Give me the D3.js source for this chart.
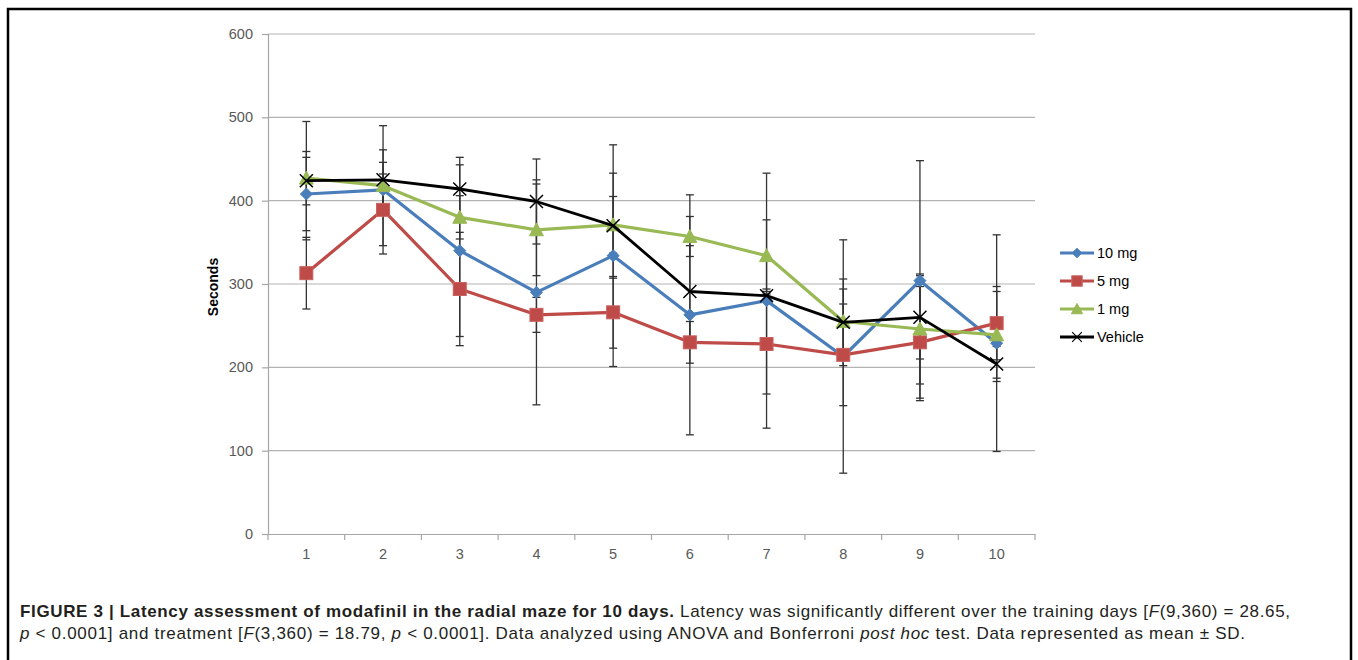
<!DOCTYPE html>
<html>
<head>
<meta charset="utf-8">
<script src="https://cdn.jsdelivr.net/npm/d3@7"></script>
<style>
  body { margin: 0; background: #fff; }
  svg { display: block; }
</style>
</head>
<body>
<div id="chart"></div>
<script>
// Days on the x axis
const days = [1, 2, 3, 4, 5, 6, 7, 8, 9, 10];
const yTicks = [0, 100, 200, 300, 400, 500, 600];

// Means and SDs (seconds)
const mg10 = [408, 413, 340, 290, 334, 263, 280, 213, 304, 229];
const mg10SD = [44, 77, 103, 135, 133, 144, 153, 140, 144, 130];
const mg5 = [313, 389, 294, 263, 266, 230, 228, 215, 230, 253];
const mg5SD = [43, 43, 68, 21, 43, 25, 60, 61, 67, 44];
const mg1 = [427, 418, 380, 365, 371, 357, 334, 255, 246, 239];
const mg1SD = [32, 28, 26, 55, 34, 24, 43, 39, 66, 52];
const vehicle = [424, 425, 414, 399, 370, 291, 286, 254, 260, 204];
const vehicleSD = [71, 36, 38, 51, 63, 55, 8, 52, 50, 21];

const seriesNames = ["10 mg", "5 mg", "1 mg", "Vehicle"];
const seriesColors = ["#4a7ebb", "#be4b48", "#98b954", "#000000"];
const seriesMarkers = ["diamond", "square", "triangle", "cross"];

const series = [
    { name: seriesNames[0], mean: mg10, sd: mg10SD },
    { name: seriesNames[1], mean: mg5, sd: mg5SD },
    { name: seriesNames[2], mean: mg1, sd: mg1SD },
    { name: seriesNames[3], mean: vehicle, sd: vehicleSD }
].map((s, i) => ({ ...s, color: seriesColors[i], marker: seriesMarkers[i] }));

const W = 1358, H = 660;
const plot = { left: 268, right: 1035, top: 34, bottom: 534 };

const svg = d3.select("#chart").append("svg")
    .attr("width", W)
    .attr("height", H);

// Frame around the figure
svg.append("path")
    .attr("d", `M8,${H + 5} V9 H1351 V${H + 5}`)
    .attr("fill", "none")
    .attr("stroke", "#000")
    .attr("stroke-width", 2.5);

const x = d3.scaleBand()
    .domain(days)
    .range([plot.left, plot.right]);

const y = d3.scaleLinear()
    .domain([0, 600])
    .range([plot.bottom, plot.top]);

const cx = d => x(d) + x.bandwidth() / 2;

// Gridlines
svg.append("g")
    .selectAll("line")
    .data(yTicks.filter(t => t > 0))
    .join("line")
    .attr("x1", plot.left)
    .attr("x2", plot.right)
    .attr("y1", d => y(d))
    .attr("y2", d => y(d))
    .attr("stroke", "#b3b3b3")
    .attr("stroke-width", 1.2);

const tickFont = "'Liberation Sans', Arial, sans-serif";

// Y axis
const yAxis = svg.append("g")
    .attr("transform", `translate(${plot.left},0)`)
    .call(d3.axisLeft(y).tickValues(yTicks).tickSize(6).tickPadding(9));
yAxis.select(".domain").attr("stroke", "#a6a6a6").attr("stroke-width", 1.2);
yAxis.selectAll(".tick line").attr("stroke", "#a6a6a6").attr("stroke-width", 1.2);
yAxis.selectAll(".tick text")
    .attr("fill", "#595959")
    .attr("font-size", 14.5)
    .attr("font-family", tickFont);

// X axis (labels centred, ticks on category boundaries)
const xAxis = svg.append("g")
    .attr("transform", `translate(0,${plot.bottom})`)
    .call(d3.axisBottom(x).tickSize(0).tickPadding(15));
xAxis.select(".domain").attr("stroke", "#a6a6a6").attr("stroke-width", 1.2);
xAxis.selectAll(".tick text")
    .attr("fill", "#595959")
    .attr("font-size", 14.5)
    .attr("font-family", tickFont);

svg.append("g")
    .selectAll("line")
    .data(days.map(d => x(d)).concat([plot.right]))
    .join("line")
    .attr("x1", d => d)
    .attr("x2", d => d)
    .attr("y1", plot.bottom)
    .attr("y2", plot.bottom + 6)
    .attr("stroke", "#a6a6a6")
    .attr("stroke-width", 1.2);

// Y title
svg.append("text")
    .attr("transform", "translate(218,287) rotate(-90)")
    .attr("text-anchor", "middle")
    .attr("font-family", tickFont)
    .attr("font-weight", "bold")
    .attr("font-size", 14)
    .attr("fill", "#000")
    .text("Seconds");

// Error bars
const errG = svg.append("g");
series.forEach(s => {
    days.forEach((d, i) => {
        const hi = y(s.mean[i] + s.sd[i]);
        const lo = y(s.mean[i] - s.sd[i]);
        const xc = cx(d);
        errG.append("line")
            .attr("x1", xc).attr("x2", xc)
            .attr("y1", hi).attr("y2", lo)
            .attr("stroke", "#333").attr("stroke-width", 1.3);
        [hi, lo].forEach(v => {
            errG.append("line")
                .attr("x1", xc - 4).attr("x2", xc + 4)
                .attr("y1", v).attr("y2", v)
                .attr("stroke", "#333").attr("stroke-width", 1.3);
        });
    });
});

const line = d3.line()
    .x((v, i) => cx(days[i]))
    .y(v => y(v));

function drawMarker(g, type, color, xc, yc, scale) {
    const k = scale || 1;
    if (type === "diamond") {
        const r = 6 * k;
        g.append("path")
            .attr("d", `M${xc},${yc - r}L${xc + r},${yc}L${xc},${yc + r}L${xc - r},${yc}Z`)
            .attr("fill", color).attr("stroke", color).attr("stroke-width", 1);
    } else if (type === "square") {
        const r = 6.5 * k;
        g.append("rect")
            .attr("x", xc - r).attr("y", yc - r)
            .attr("width", 2 * r).attr("height", 2 * r)
            .attr("fill", color).attr("stroke", "#c9615e").attr("stroke-width", 1);
    } else if (type === "triangle") {
        const r = 7 * k;
        g.append("path")
            .attr("d", `M${xc},${yc - r}L${xc + r},${yc + r * 0.85}L${xc - r},${yc + r * 0.85}Z`)
            .attr("fill", color).attr("stroke", color).attr("stroke-width", 1);
    } else {
        const r = 6.5 * k;
        g.append("path")
            .attr("d", `M${xc - r},${yc - r}L${xc + r},${yc + r}M${xc - r},${yc + r}L${xc + r},${yc - r}`)
            .attr("fill", "none").attr("stroke", color).attr("stroke-width", 1.5 * k);
    }
}

// Lines and markers
series.forEach(s => {
    svg.append("path")
        .datum(s.mean)
        .attr("d", line)
        .attr("fill", "none")
        .attr("stroke", s.color)
        .attr("stroke-width", s.marker === "cross" ? 2.8 : 3.2)
        .attr("stroke-linejoin", "round");
    const mg = svg.append("g");
    s.mean.forEach((v, i) => drawMarker(mg, s.marker, s.color, cx(days[i]), y(v)));
});

// Legend
const legend = svg.append("g");
series.forEach((s, i) => {
    const ly = 253 + i * 28;
    legend.append("line")
        .attr("x1", 1060).attr("x2", 1094)
        .attr("y1", ly).attr("y2", ly)
        .attr("stroke", s.color)
        .attr("stroke-width", s.marker === "cross" ? 2.8 : 3.2);
    drawMarker(legend, s.marker, s.color, 1077, ly, s.marker === "cross" ? 0.75 : 0.8);
    legend.append("text")
        .attr("x", 1097)
        .attr("y", ly + 5)
        .attr("font-family", "Arial, 'Liberation Sans', sans-serif")
        .attr("font-size", 14.5)
        .attr("fill", "#000")
        .text(s.name);
});

// Caption
const capFont = "'Liberation Sans', Arial, sans-serif";
const cap1 = svg.append("text")
    .attr("x", 20).attr("y", 617)
    .attr("textLength", 1270)
    .attr("lengthAdjust", "spacing")
    .attr("font-family", capFont)
    .attr("font-size", 17)
    .attr("fill", "#231f20");
cap1.append("tspan").attr("font-weight", "bold")
    .text("FIGURE 3 | Latency assessment of modafinil in the radial maze for 10 days.");
cap1.append("tspan").text(" Latency was significantly different over the training days [");
cap1.append("tspan").attr("font-style", "italic").text("F");
cap1.append("tspan").text("(9,360) = 28.65,");

const cap2 = svg.append("text")
    .attr("x", 20).attr("y", 639)
    .attr("textLength", 1225)
    .attr("lengthAdjust", "spacing")
    .attr("font-family", capFont)
    .attr("font-size", 17)
    .attr("fill", "#231f20");
cap2.append("tspan").attr("font-style", "italic").text("p");
cap2.append("tspan").text(" < 0.0001] and treatment [");
cap2.append("tspan").attr("font-style", "italic").text("F");
cap2.append("tspan").text("(3,360) = 18.79, ");
cap2.append("tspan").attr("font-style", "italic").text("p");
cap2.append("tspan").text(" < 0.0001]. Data analyzed using ANOVA and Bonferroni ");
cap2.append("tspan").attr("font-style", "italic").text("post hoc");
cap2.append("tspan").text(" test. Data represented as mean \u00b1 SD.");
</script>
</body>
</html>
